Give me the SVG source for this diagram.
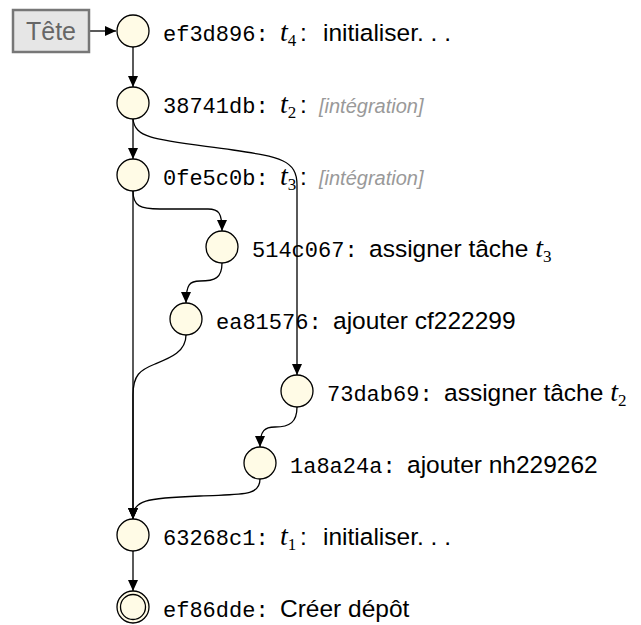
<svg xmlns="http://www.w3.org/2000/svg" width="641" height="625" viewBox="0 0 641 625">
<style>
.n{fill:#fffbe6;stroke:#000;stroke-width:1.3}
.c{fill:none;stroke:#000;stroke-width:1.3}
.m{font-family:"Liberation Mono","DejaVu Sans Mono",monospace;font-size:22px;fill:#000}
.s{font-family:"Liberation Sans","DejaVu Sans",sans-serif;font-size:24.5px;fill:#000}
.t{font-family:"Liberation Serif","DejaVu Serif",serif;font-style:italic;font-size:28px;fill:#000}
.sub{font-family:"Liberation Serif","DejaVu Serif",serif;font-size:17px;fill:#000}
.g{font-family:"Liberation Sans","DejaVu Sans",sans-serif;font-style:italic;font-size:20px;fill:#999}
</style>
<defs>
<marker id="a" markerWidth="12" markerHeight="10" refX="11" refY="5" orient="auto" markerUnits="userSpaceOnUse">
<path d="M0,0 L11,5 L0,10 z" fill="#000"/>
</marker>
</defs>
<g id="connectors">
<line class="c" x1="89" y1="31" x2="116" y2="31" marker-end="url(#a)"/>
<line class="c" x1="133" y1="47" x2="133" y2="87" marker-end="url(#a)"/>
<line class="c" x1="133" y1="119" x2="133" y2="159" marker-end="url(#a)"/>
<path class="c" d="M133,119 C135,140 160,140 233,150 C280,157 297,160 297,185 L297,375" marker-end="url(#a)"/>
<line class="c" x1="133" y1="191" x2="133" y2="519" marker-end="url(#a)"/>
<path class="c" d="M133,191 C133,206 140,209 160,209 L208,209 C219,209 222,213 222,231" marker-end="url(#a)"/>
<path class="c" d="M222,263 C222,278 215,281 200,281 C190,281 186,284 186,303" marker-end="url(#a)"/>
<path class="c" d="M186,335 C186,352 170,358 155,364 C140,370 133,375 133,395 L133,519" marker-end="url(#a)"/>
<path class="c" d="M297,407 C297,422 290,427 275,427 C265,427 260,430 260,447" marker-end="url(#a)"/>
<path class="c" d="M260,479 C260,497 240,494 200,496 C145,498 133,500 133,519" marker-end="url(#a)"/>
<line class="c" x1="133" y1="551" x2="133" y2="591" marker-end="url(#a)"/>
</g>
<g id="tete">
<rect x="13" y="10" width="76" height="42" fill="#e6e6e6" stroke="#777" stroke-width="2.5"/>
<text x="51" y="40" text-anchor="middle" font-family="Liberation Sans, DejaVu Sans, sans-serif" font-size="25" fill="#666">Tête</text>
</g>
<g id="ef3d896">
<circle class="n" cx="133" cy="31" r="16"/>
<text y="41"><tspan class="m" x="163">ef3d896:</tspan><tspan class="t" x="280">t</tspan><tspan class="sub" dy="5">4</tspan><tspan class="s" x="300" dy="-5">:</tspan><tspan class="s" x="323">initialiser. . .</tspan></text>
</g>
<g id="n38741db">
<circle class="n" cx="133" cy="103" r="16"/>
<text y="113"><tspan class="m" x="163">38741db:</tspan><tspan class="t" x="280">t</tspan><tspan class="sub" dy="5">2</tspan><tspan class="s" x="300" dy="-5">:</tspan><tspan class="g" x="319">[intégration]</tspan></text>
</g>
<g id="n0fe5c0b">
<circle class="n" cx="133" cy="175" r="16"/>
<text y="185"><tspan class="m" x="163">0fe5c0b:</tspan><tspan class="t" x="280">t</tspan><tspan class="sub" dy="5">3</tspan><tspan class="s" x="300" dy="-5">:</tspan><tspan class="g" x="319">[intégration]</tspan></text>
</g>
<g id="n514c067">
<circle class="n" cx="222" cy="247" r="16"/>
<text y="257"><tspan class="m" x="252">514c067:</tspan><tspan class="s" x="369">assigner tâche </tspan><tspan class="t">t</tspan><tspan class="sub" dy="5">3</tspan></text>
</g>
<g id="ea81576">
<circle class="n" cx="186" cy="319" r="16"/>
<text y="329"><tspan class="m" x="216">ea81576:</tspan><tspan class="s" x="333">ajouter cf222299</tspan></text>
</g>
<g id="n73dab69">
<circle class="n" cx="297" cy="391" r="16"/>
<text y="401"><tspan class="m" x="327">73dab69:</tspan><tspan class="s" x="444">assigner tâche </tspan><tspan class="t">t</tspan><tspan class="sub" dy="5">2</tspan></text>
</g>
<g id="n1a8a24a">
<circle class="n" cx="260" cy="463" r="16"/>
<text y="473"><tspan class="m" x="290">1a8a24a:</tspan><tspan class="s" x="407">ajouter nh229262</tspan></text>
</g>
<g id="n63268c1">
<circle class="n" cx="133" cy="535" r="16"/>
<text y="545"><tspan class="m" x="163">63268c1:</tspan><tspan class="t" x="280">t</tspan><tspan class="sub" dy="5">1</tspan><tspan class="s" x="300" dy="-5">:</tspan><tspan class="s" x="323">initialiser. . .</tspan></text>
</g>
<g id="ef86dde">
<circle class="n" cx="133" cy="607" r="16"/>
<circle class="n" cx="133" cy="607" r="12.5"/>
<text y="617"><tspan class="m" x="163">ef86dde:</tspan><tspan class="s" x="280">Créer dépôt</tspan></text>
</g>
</svg>
